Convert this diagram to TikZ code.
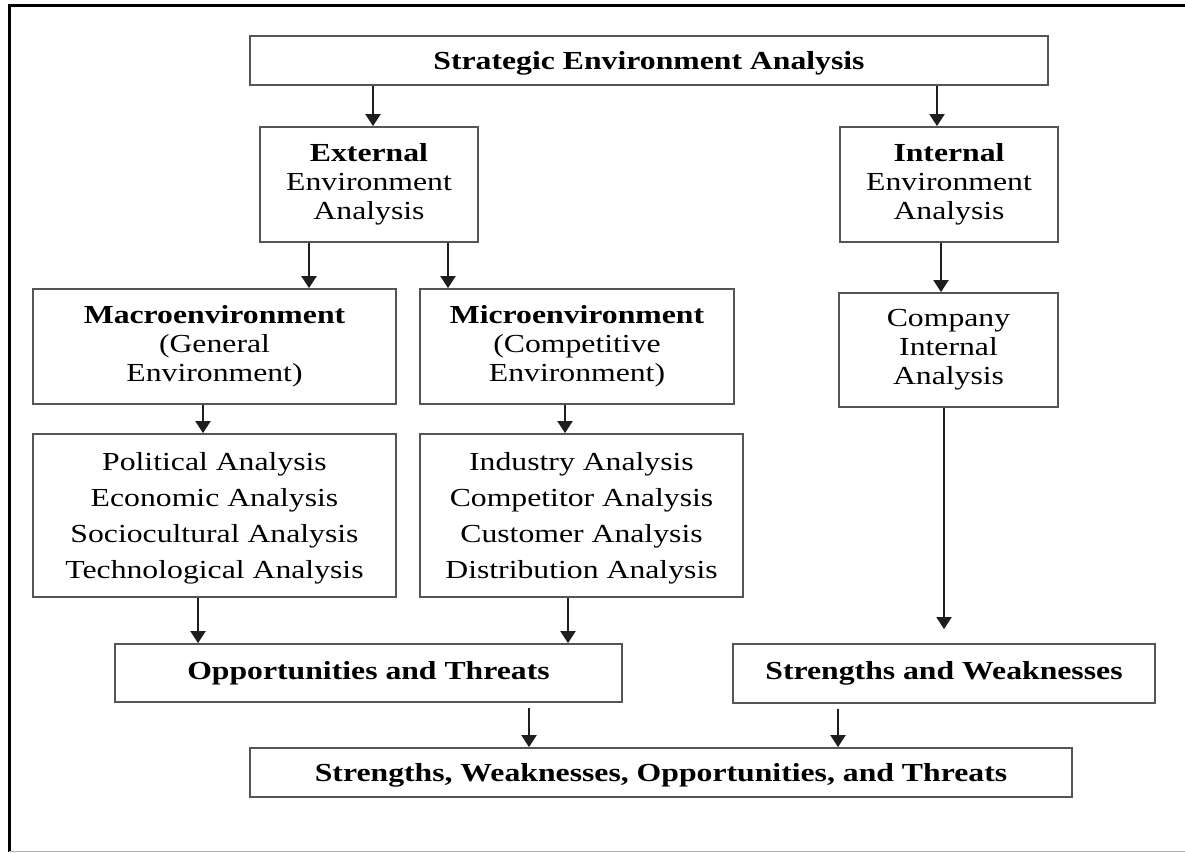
\documentclass[tikz,border=0pt]{standalone}
\usepackage{fontspec}
\setmainfont{Liberation Serif}[FakeStretch=1.22]
\usetikzlibrary{arrows.meta}
\definecolor{boxgray}{RGB}{85,85,85}
\definecolor{arrgray}{RGB}{30,30,30}
\begin{document}
\begin{tikzpicture}[x=1pt,y=-1pt,
  box/.style={draw=boxgray, line width=1.8pt, align=center, inner sep=0pt,
    font=\fontsize{26}{29}\selectfont, text=black},
  listbox/.style={box, font=\fontsize{26}{35.7}\selectfont, text depth=0pt},
  arr/.style={draw=arrgray, line width=2pt, -{Triangle[width=15pt,length=12pt]}},
]
\useasboundingbox (0,0) rectangle (1185,852);
% page frame
\draw[line width=3pt] (9,852) -- (9,5) -- (1185,5);
\draw[gray!60, line width=1pt] (9,851) -- (1185,851);

% boxes
\node[box, text depth=0pt, minimum width=798pt, minimum height=49pt] (top) at (649,60.5)
  {\textbf{Strategic Environment Analysis}};
\node[box, minimum width=218pt, minimum height=115pt] (ext) at (369,184.5)
  {\textbf{External}\\Environment\\Analysis};
\node[box, minimum width=218pt, minimum height=115pt] (int) at (949,184.5)
  {\textbf{Internal}\\Environment\\Analysis};
\node[box, minimum width=363pt, minimum height=115pt] (macro) at (214.5,346.5)
  {\textbf{Macroenvironment}\\(General\\Environment)};
\node[box, minimum width=314pt, minimum height=115pt] (micro) at (577,346.5)
  {\textbf{Microenvironment}\\(Competitive\\Environment)};
\node[box, minimum width=219pt, minimum height=114pt] (comp) at (948.5,350)
  {Company\\Internal\\Analysis};
\node[listbox, minimum width=363pt, minimum height=163pt] (pol) at (214.5,515.5)
  {Political Analysis\\Economic Analysis\\Sociocultural Analysis\\Technological Analysis};
\node[listbox, minimum width=323pt, minimum height=163pt] (ind) at (581.5,515.5)
  {Industry Analysis\\Competitor Analysis\\Customer Analysis\\Distribution Analysis};
\node[box, minimum width=507pt, minimum height=58pt] (opp) at (368.5,673)
  {\textbf{Opportunities and Threats}};
\node[box, minimum width=422pt, minimum height=59pt] (sw) at (944,673.5)
  {\textbf{Strengths and Weaknesses}};
\node[box, text depth=0pt, minimum width=822pt, minimum height=49pt] (swot) at (661,772.5)
  {\textbf{Strengths, Weaknesses, Opportunities, and Threats}};

% connector columns
\coordinate (cA) at (373,0);
\coordinate (cB) at (937,0);
\coordinate (cC) at (309,0);
\coordinate (cD) at (448,0);
\coordinate (cE) at (941,0);
\coordinate (cF) at (203,0);
\coordinate (cG) at (565,0);
\coordinate (cH) at (198,0);
\coordinate (cI) at (568,0);
\coordinate (cJ) at (944,0);
\coordinate (cK) at (529,0);
\coordinate (cL) at (838,0);

% connectors
\draw[arr] (top.south -| cA) -- (ext.north -| cA);
\draw[arr] (top.south -| cB) -- (int.north -| cB);
\draw[arr] (ext.south -| cC) -- (macro.north -| cC);
\draw[arr] (ext.south -| cD) -- (micro.north -| cD);
\draw[arr] (int.south -| cE) -- (comp.north -| cE);
\draw[arr] (macro.south -| cF) -- (pol.north -| cF);
\draw[arr] (micro.south -| cG) -- (ind.north -| cG);
\draw[arr] (pol.south -| cH) -- (opp.north -| cH);
\draw[arr] (ind.south -| cI) -- (opp.north -| cI);
\draw[arr, shorten >=14pt] (comp.south -| cJ) -- (sw.north -| cJ);
\draw[arr, shorten <=5pt] (opp.south -| cK) -- (swot.north -| cK);
\draw[arr, shorten <=5pt] (sw.south -| cL) -- (swot.north -| cL);
\end{tikzpicture}
\end{document}
